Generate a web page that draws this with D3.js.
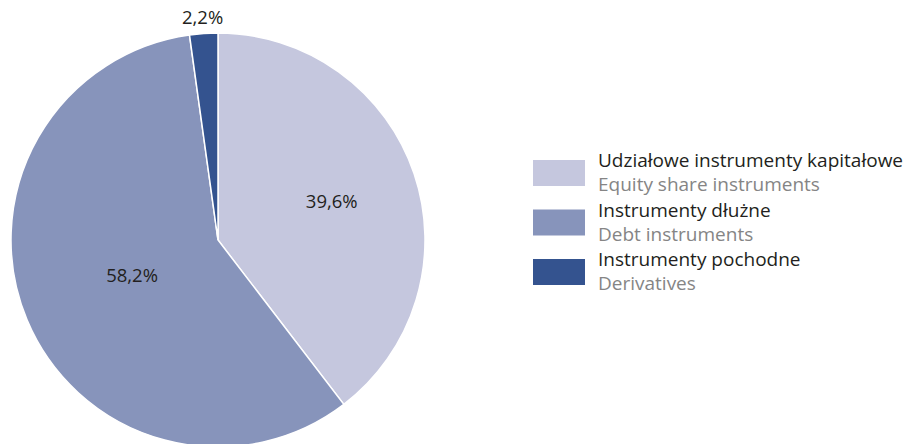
<!doctype html>
<html lang="pl">
<head>
  <meta charset="utf-8">
  <script src="https://d3js.org/d3.v7.min.js"></script>
  <style>
    body { margin: 0; background: #fff; }
    text { font-family: "Open Sans", "Noto Sans", sans-serif; }
  </style>
</head>
<body>
<svg id="chart" width="908" height="444"></svg>
<script>
  // data
  var labelsPl = ["Udziałowe instrumenty kapitałowe", "Instrumenty dłużne", "Instrumenty pochodne"];
  var labelsEn = ["Equity share instruments", "Debt instruments", "Derivatives"];
  var shares = [39.6, 58.2, 2.2];
  var colors = ["#c5c7de", "#8794bb", "#34538f"];

  var svg = d3.select("#chart");
  var cx = 218, cy = 240, R = 207;
  // how far out each percentage label sits (share of radius)
  var labelPos = [0.58, 0.45, 1.075];

  var data = shares.map(function(v, i) { return {pl: labelsPl[i], en: labelsEn[i], value: v, i: i}; });

  var pie = d3.pie().sort(null).value(function(d) { return d.value; });
  var arc = d3.arc().innerRadius(0).outerRadius(R);

  var g = svg.append("g").attr("transform", "translate(" + cx + "," + cy + ")");
  var arcs = pie(data);

  g.selectAll("path")
    .data(arcs)
    .enter().append("path")
    .attr("d", arc)
    .attr("fill", function(d) { return colors[d.index]; })
    .attr("stroke", "#fff")
    .attr("stroke-width", 1.5);

  g.selectAll("text.pct")
    .data(arcs)
    .enter().append("text")
    .attr("class", "pct")
    .attr("transform", function(d) {
      var r = R * labelPos[d.index];
      var c = d3.arc().innerRadius(r).outerRadius(r).centroid(d);
      return "translate(" + c[0] + "," + c[1] + ")";
    })
    .attr("text-anchor", "middle")
    .attr("dy", "0.35em")
    .style("font-size", "18.5px")
    .style("fill", "#231f20")
    .text(function(d) { return d.data.value.toFixed(1).replace(".", ",") + "%"; });

  // legend
  var legend = svg.append("g").attr("transform", "translate(533,160)");
  var item = legend.selectAll("g")
    .data(data)
    .enter().append("g")
    .attr("transform", function(d, i) { return "translate(0," + (i * 49.5) + ")"; });

  item.append("rect")
    .attr("width", 52).attr("height", 26)
    .attr("fill", function(d) { return colors[d.i]; });

  item.append("text")
    .attr("x", 65).attr("y", 7)
    .style("font-size", "19px")
    .style("fill", "#231f20")
    .text(function(d) { return d.pl; });

  item.append("text")
    .attr("x", 65).attr("y", 31)
    .style("font-size", "19px")
    .style("fill", "#858585")
    .text(function(d) { return d.en; });
</script>
</body>
</html>
